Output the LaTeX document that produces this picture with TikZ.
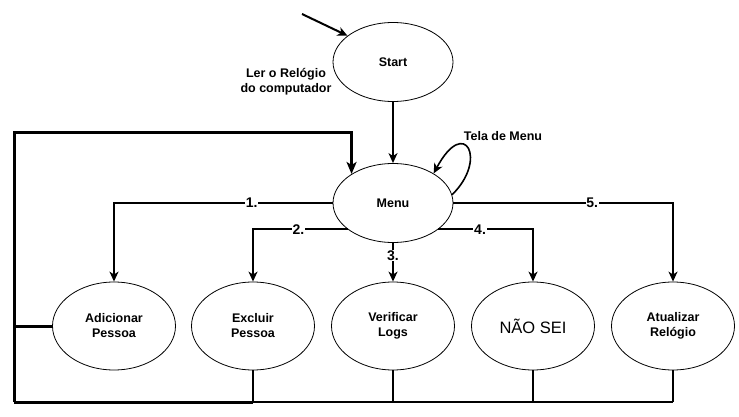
\documentclass[tikz,border=0pt]{standalone}
\usepackage{fontspec}
\setmainfont{Liberation Sans}
\usetikzlibrary{shapes.geometric,arrows.meta}
\begin{document}
\begin{tikzpicture}[x=1pt,y=-1pt,
  st/.style={ellipse,draw,line width=0.8pt,minimum width=120pt,minimum height=79pt,inner sep=0pt,font=\fontsize{12.5}{15}\selectfont\bfseries,align=center},
  bst/.style={st,minimum width=123pt,minimum height=88pt},
  tip/.style={-{Stealth[length=10pt,width=9pt,inset=3pt]}},
  conn/.style={line width=1.6pt,tip},
  plain/.style={line width=1.6pt},
  heavy/.style={line width=3pt},
  lbl/.style={fill=white,inner sep=0.8pt,font=\fontsize{14}{16}\selectfont\bfseries},
  note/.style={font=\fontsize{12.5}{15}\selectfont\bfseries,align=center}]
\useasboundingbox (0,0) rectangle (739,417);
\node[st] (start) at (393,62) {Start};
\node[st] (menu) at (393,203) {Menu};
\node[bst] (add) at (114,326) {Adicionar\\Pessoa};
\node[bst] (exc) at (253,326) {Excluir\\Pessoa};
\node[bst] (ver) at (393,326) {Verificar\\Logs};
\node[bst,font=\fontsize{16.5}{18}\selectfont] (nao) at (533,326) {NÃO SEI};
\node[bst] (atu) at (673,326) {Atualizar\\Relógio};
\node[note] (ler) at (286,82) {Ler o Relógio\\do computador};
\node[note] (tela) at (503,136) {Tela de Menu};
\coordinate (in) at (302,14);
\coordinate (tl) at (14,133);
\coordinate (bl) at (14,402);
% entry arrow
\draw[conn,line width=2pt] (in) -- (start.150);
\draw[conn] (start.south) -- (menu.north);
% self loop
\draw[conn] (menu.8) .. controls (488,160) and (465,115) .. (menu.36);
% branches
\draw[conn] (menu.west) -| (add.north) node[lbl,pos=0.185] {1.};
\draw[conn] (menu.210) -| (exc.north) node[lbl,pos=0.26] {2.};
\draw[conn] (menu.south) -- (ver.north) node[lbl,pos=0.33] {3.};
\draw[conn] (menu.330) -| (nao.north) node[lbl,pos=0.22] {4.};
\draw[conn] (menu.east) -| (atu.north) node[lbl,pos=0.316] {5.};
% feedback loop
\draw[heavy] (add.west) -- (add.west -| bl);
\draw[heavy,-{Stealth[length=12pt,width=10pt,inset=3pt]}] (bl) -- (tl) -| (menu.145);
\draw[heavy] (bl) -- (exc.south |- bl);
\draw[plain] (exc.south |- bl) -- (atu.south |- bl);
\draw[plain] (exc.south) -- (exc.south |- bl);
\draw[plain] (ver.south) -- (ver.south |- bl);
\draw[plain] (nao.south) -- (nao.south |- bl);
\draw[plain] (atu.south) -- (atu.south |- bl);
\end{tikzpicture}
\end{document}
